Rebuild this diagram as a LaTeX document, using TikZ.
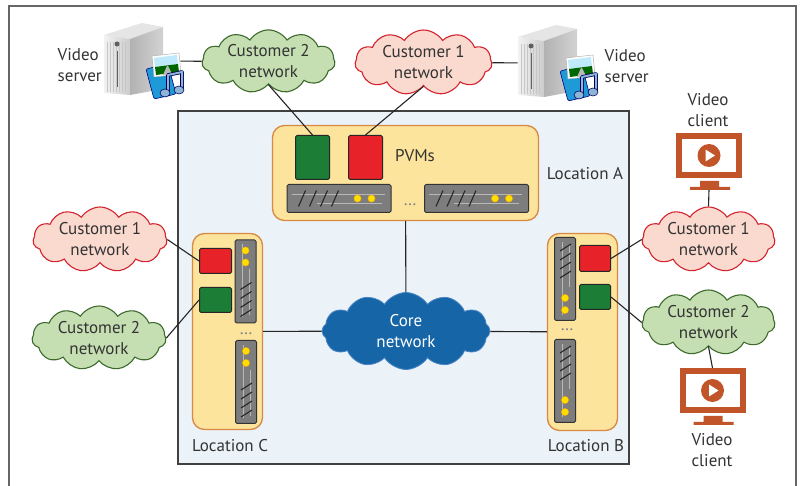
\documentclass[tikz,border=0pt]{standalone}
\usepackage{fontspec}
\setmainfont{PT Sans}
\usetikzlibrary{shapes.symbols,positioning}

\definecolor{txtgray}{HTML}{333333}
\definecolor{pinkfill}{HTML}{FAD9CE}
\definecolor{pinkline}{HTML}{D3232E}
\definecolor{greenfill}{HTML}{C5DFB3}
\definecolor{greenline}{HTML}{3D6B2C}
\definecolor{corefill}{HTML}{1665A7}
\definecolor{coreline}{HTML}{4A86C5}
\definecolor{locfill}{HTML}{FCE49C}
\definecolor{locline}{HTML}{D98845}
\definecolor{sitefill}{HTML}{EBF3F8}
\definecolor{vmred}{HTML}{E82229}
\definecolor{vmgreen}{HTML}{1B7D36}
\definecolor{rackgray}{HTML}{7D7D7D}
\definecolor{ledyellow}{HTML}{FFE000}
\definecolor{screenorange}{HTML}{C2542A}
\definecolor{mediablue}{HTML}{1E9BD7}
\definecolor{noteblue}{HTML}{8EB4D6}

\tikzset{
  video server/.pic={
    % tower
    \fill[gray!20] (-40,-26) -- (-2,-38) -- (19,-34) -- (-14,-22) -- cycle;
    \shade[left color=gray!10, right color=gray!40] (-40,-26) -- (-14,-22) -- (-14,34) -- (-40,32) -- cycle;
    \shade[left color=gray!60, right color=gray!35] (-14,-22) -- (19,-34) -- (19,28) -- (-14,34) -- cycle;
    \foreach \s in {-37,-34,...,-17} \draw[gray!45, line width=0.4pt] (\s,-19) -- (\s,31);
    \draw[gray!75!black, line width=1pt] (-27,-10) -- (-27,26);
    \fill[gray!75!black] (-27,-17) circle[radius=2.5pt];
    % media
    \filldraw[fill=mediablue, draw=blue!50!black, line width=0.6pt, rounded corners=2pt] (2,8) -- (24,3) -- (32,33) -- (10,38) -- cycle;
    \filldraw[fill=white, draw=gray!60, line width=0.5pt] (8,-5) -- (35,-8) -- (37,13) -- (10,16) -- cycle;
    \fill[cyan!25] (10,-3) -- (33,-6) -- (34,3) -- (11,6) -- cycle;
    \fill[green!40!black] (11,6) -- (34,3) -- (35,11) -- (12,14) -- cycle;
    \fill[gray!55] (19,14) -- (23,5) -- (24,5) -- (28,13) -- cycle;
    % note
    \draw[blue!35!black, line width=3.6pt, line join=round] (24,31) -- (24,14) -- (38,11) -- (38,28);
    \draw[noteblue, line width=2pt, line join=round] (24,31) -- (24,14) -- (38,11) -- (38,28);
    \filldraw[fill=noteblue, draw=blue!35!black, line width=0.6pt] (21,32) ellipse[x radius=5pt, y radius=4pt] (35,29) ellipse[x radius=5pt, y radius=4pt];
  }
}

\begin{document}
\begin{tikzpicture}[x=1pt,y=-1pt,thick,
  every node/.style={font=\fontsize{17}{21}\selectfont, text=txtgray},
  net cloud/.style={cloud, cloud puffs=11, cloud puff arc=115, cloud ignores aspect, line width=1.1pt, inner sep=0pt, minimum width=133pt, minimum height=63pt, align=center},
  cust1 cloud/.style={net cloud, fill=pinkfill, draw=pinkline},
  cust2 cloud/.style={net cloud, fill=greenfill, draw=greenline},
  core cloud/.style={net cloud, cloud puffs=12, fill=corefill, draw=coreline, line width=0.8pt, text=white, minimum width=168pt, minimum height=77pt},
  site/.style={rectangle, fill=sitefill, draw=black!75, line width=1.2pt, minimum width=451pt, minimum height=353pt},
  loc box/.style={rectangle, rounded corners=12pt, fill=locfill, draw=locline, line width=1.3pt},
  vm/.style={rectangle, rounded corners=1.5pt, draw=black!85, line width=1pt},
  vm red/.style={vm, fill=vmred},
  vm green/.style={vm, fill=vmgreen},
  rack/.style={rectangle, rounded corners=1.5pt, fill=rackgray, draw=black!80, line width=1pt},
  hrack/.style={rack, minimum width=104pt, minimum height=28pt},
  vrack/.style={rack, minimum width=21pt, minimum height=83pt},
  slash/.style={black!85, line width=1.1pt},
  streak/.style={white!45!rackgray, line width=0.5pt},
  led/.style={fill=ledyellow, draw=orange!70!yellow, line width=0.4pt},
  icon/.style={rectangle, minimum width=76pt, minimum height=70pt},
  screen/.style={rectangle, draw=screenorange, line width=6pt, fill=white, minimum width=60pt, minimum height=39pt, inner sep=0pt},
  play/.style={circle, fill=screenorange, minimum size=23pt, inner sep=0pt},
  link/.style={-, line width=1.1pt, black!85}]

  \useasboundingbox[fill=white] (0,0) rectangle (804,486);
  \draw[black!60, line width=1.2pt] (9,487) -- (9,6) -- (796,6) -- (796,487);

  \node[site] (dc) at (403.5,287.5) {};

  % Location A
  \node[loc box, minimum width=266pt, minimum height=95pt] (locA) at (405.5,173) {};
  \node[vm green, minimum width=34pt, minimum height=44pt] (vmA2) at (312.5,157.5) {};
  \node[vm red, minimum width=34pt, minimum height=44pt] (vmA1) at (365.5,157.5) {};
  \node (pvm) at (415,156) {PVMs};
  \node[hrack] (rA1) at (339,198.5) {};
  \node[hrack] (rA2) at (476.5,198.5) {};
  \node[text=gray] (dotsA) at (410,205) {\dots};
  \node (labA) at (585,174) {Location A};

  % Location C
  \node[loc box, minimum width=70pt, minimum height=196pt] (locC) at (227.5,331.5) {};
  \node[vm red, minimum width=32pt, minimum height=25pt] (vmC1) at (215.5,261) {};
  \node[vm green, minimum width=32pt, minimum height=25pt] (vmC2) at (215.5,300) {};
  \node[vrack] (rC1) at (245.5,281.5) {};
  \node[vrack] (rC2) at (246,382) {};
  \node[text=gray] (dotsC) at (246,334) {\dots};
  \node (labC) at (230,446) {Location C};

  % Location B
  \node[loc box, minimum width=70pt, minimum height=197pt] (locB) at (582.5,332) {};
  \node[vrack] (rB1) at (565,279) {};
  \node[vrack] (rB2) at (565,381) {};
  \node[vm red, minimum width=31pt, minimum height=26pt] (vmB1) at (595,258.5) {};
  \node[vm green, minimum width=31pt, minimum height=25pt] (vmB2) at (595,297) {};
  \node[text=gray] (dotsB) at (567,330) {\dots};
  \node (labB) at (586,446) {Location B};

  \foreach \r in {rA1,rA2} {
    \draw[streak, shift={(\r.west)}] (5,-4) -- (98,-4) (30,5) -- (95,5);
    \foreach \i in {0,...,3}
      \draw[slash, shift={(\r.west)}] (12+11*\i,8) -- ++(7,-16);
    \filldraw[led, shift={(\r.west)}] (71,0) circle[radius=3.6pt] (85,0) circle[radius=3.6pt];
  }
  \foreach \r in {rC1,rC2} {
    \draw[streak, shift={(\r.north)}] (-3,5) -- (-3,78) (4,30) -- (4,76);
    \filldraw[led, shift={(\r.north)}] (0,11) circle[radius=3.6pt] (0,23) circle[radius=3.6pt];
    \foreach \i in {0,...,3}
      \draw[slash, shift={(\r.north)}] (-5,50+9*\i) -- ++(11,-7);
  }
  \foreach \r in {rB1,rB2} {
    \draw[streak, shift={(\r.north)}] (-3,5) -- (-3,78) (4,8) -- (4,50);
    \filldraw[led, shift={(\r.north)}] (0,61) circle[radius=3.6pt] (0,73) circle[radius=3.6pt];
    \foreach \i in {0,...,3}
      \draw[slash, shift={(\r.north)}] (-5,14+9*\i) -- ++(11,-7);
  }

  % networks
  \node[core cloud] (core) at (406,331) {Core\\network};
  \node[cust2 cloud] (c2T) at (268.5,61.5) {Customer 2\\network};
  \node[cust1 cloud, minimum width=137pt, minimum height=65pt] (c1T) at (423.5,62.5) {Customer 1\\network};
  \node[cust1 cloud, minimum width=134pt, minimum height=65pt] (c1L) at (100,239.5) {Customer 1\\network};
  \node[cust2 cloud, minimum width=134pt, minimum height=64pt] (c2L) at (99,338) {Customer 2\\network};
  \node[cust1 cloud, minimum height=65pt] (c1R) at (708.5,239.5) {Customer 1\\network};
  \node[cust2 cloud, minimum height=65pt] (c2R) at (708.5,322.5) {Customer 2\\network};

  % video servers
  \node[icon] (srvL) at (142,61) {};
  \pic at (144,61) {video server};
  \node[align=left, anchor=west] (labSL) at (54,65) {Video\\server};
  \node[icon] (srvR) at (556,63) {};
  \pic at (558,63) {video server};
  \node[align=left, anchor=west] (labSR) at (601,66) {Video\\server};

  % video clients
  \node[screen] (scrT) at (709,155.5) {};
  \node[play] (playT) at (scrT.center) {};
  \fill[white, shift={(playT.center)}] (-3.5,-6) -- (6,0) -- (-3.5,6) -- cycle;
  \fill[screenorange, shift={(scrT.south)}] (-9,3) rectangle (10,9) (-19,9) rectangle (21,12);
  \coordinate (footT) at ([yshift=-12pt]scrT.south);
  \node[align=center] (labCT) at (708,110) {Video\\client};

  \node[screen] (scrB) at (712.5,390.5) {};
  \node[play] (playB) at (scrB.center) {};
  \fill[white, shift={(playB.center)}] (-3.5,-6) -- (6,0) -- (-3.5,6) -- cycle;
  \fill[screenorange, shift={(scrB.south)}] (-9,3) rectangle (10,9) (-19,9) rectangle (21,12);
  \node[align=center] (labCB) at (712,450) {Video\\client};

  \path[link]
    (srvL) edge (c2T)
    (c1T) edge (srvR)
    (c2T.south) edge (vmA2.north)
    (c1T.south) edge (vmA1.north)
    (locA) edge (core)
    (locC) edge (core)
    (core) edge (locB)
    (c1L.east) edge (vmC1.west)
    (c2L.east) edge (vmC2.west)
    (vmB1.east) edge (c1R.west)
    (vmB2.east) edge (c2R.west)
    (footT) edge (c1R.north)
    (c2R.south) edge (scrB.north);
\end{tikzpicture}
\end{document}
